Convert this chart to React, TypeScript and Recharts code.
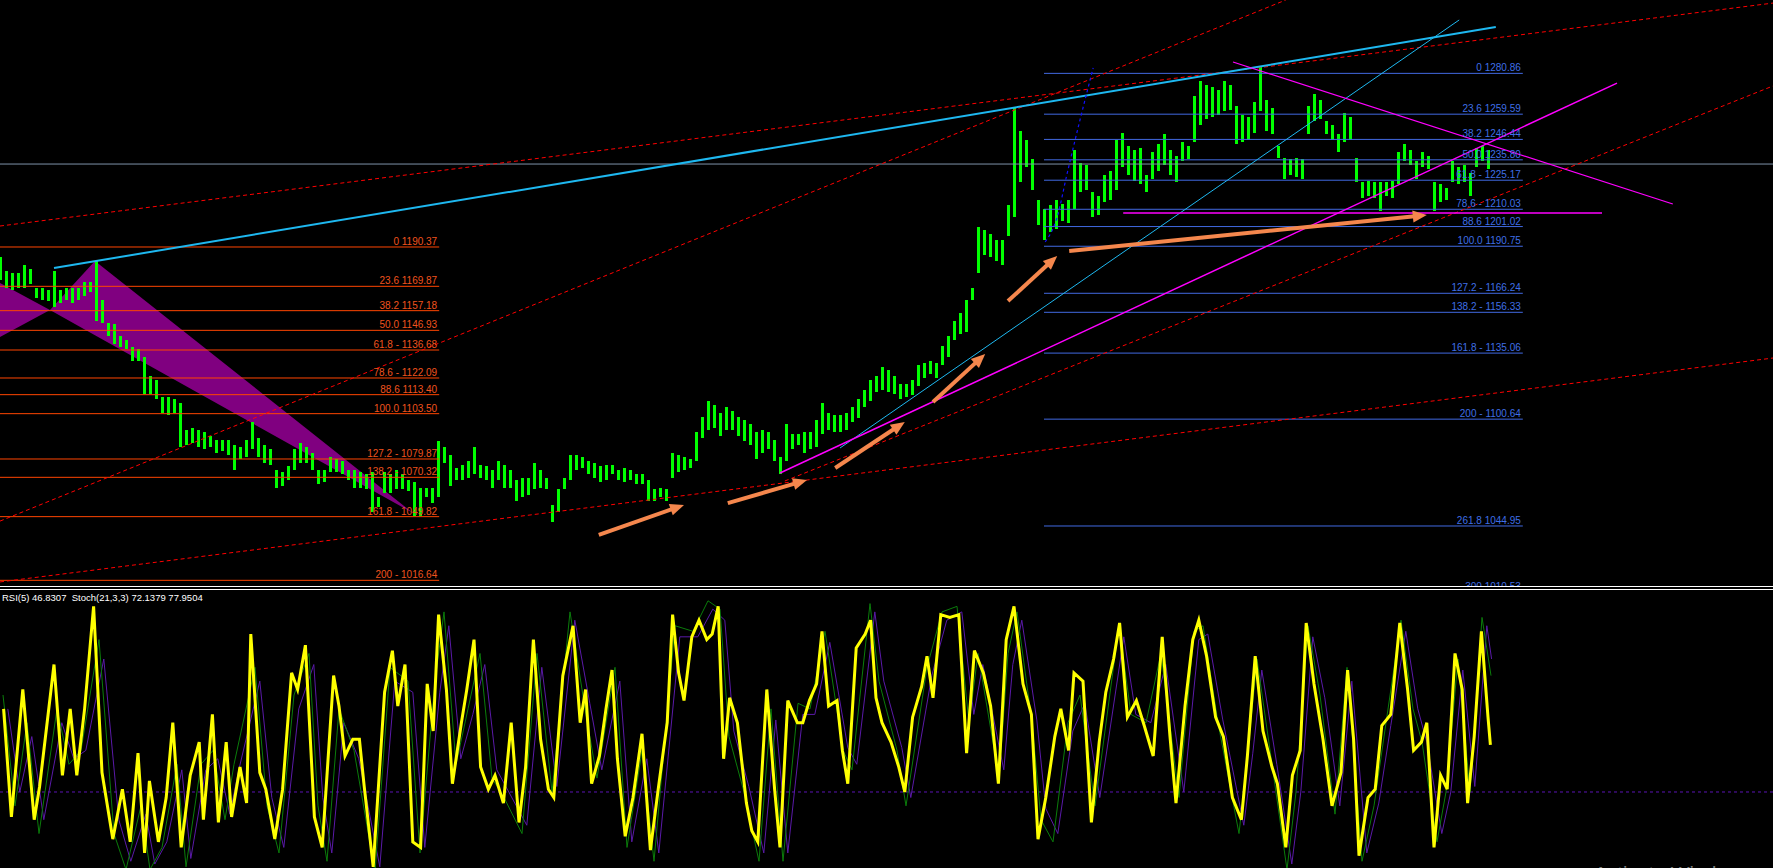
import React from 'react';
import { ComposedChart, Bar, Line, Area, XAxis, YAxis, ReferenceLine } from 'recharts';

// ---------- layout / calibration ----------
const WIDTH = 1773;
const HEIGHT = 868;
const PRICE_H = 586;
const IND_Y = 590;
const IND_H = 278;
const BAR_STEP_PX = 6;
const X_MAX = WIDTH / BAR_STEP_PX;
const PRICE_TOP = 1319.1;
const PRICE_PER_PX = 0.5212;
const PRICE_DOMAIN: [number, number] = [PRICE_TOP - PRICE_H * PRICE_PER_PX, PRICE_TOP];
const IND_DOMAIN: [number, number] = [2.57, 102.9];
const FONT = '"Liberation Sans", Arial, sans-serif';

// ---------- price bars (one bar per index) ----------
const highs = [
  1185, 1178, 1177, 1177, 1181, 1179, 1169, 1169, 1168, 1178,
  1168, 1169, 1169, 1169, 1172, 1172, 1183, 1163, 1151, 1150,
  1144, 1142, 1138, 1137, 1133, 1123, 1121, 1112, 1112, 1111,
  1109, 1095, 1096, 1095, 1094, 1092, 1090, 1090, 1090, 1087,
  1086, 1090, 1099, 1091, 1087, 1085, 1074, 1073, 1076, 1085,
  1088, 1086, 1083, 1074, 1074, 1081, 1080, 1079, 1074, 1074,
  1073, 1072, 1073, 1060, 1073, 1072, 1074, 1072, 1069, 1068,
  1065, 1065, 1065, 1089, 1086, 1082, 1075, 1077, 1079, 1086,
  1077, 1076, 1074, 1079, 1077, 1074, 1069, 1070, 1070, 1078,
  1074, 1070, 1056, 1064, 1070, 1082, 1082, 1081, 1079, 1078,
  1076, 1077, 1077, 1074, 1075, 1074, 1072, 1072, 1069, 1064,
  1065, 1064, 1083, 1082, 1081, 1080, 1094, 1102, 1110, 1108,
  1104, 1107, 1105, 1102, 1100, 1098, 1094, 1095, 1094, 1090,
  1081, 1098, 1093, 1093, 1094, 1094, 1100, 1109, 1104, 1103,
  1103, 1104, 1107, 1111, 1116, 1121, 1123, 1128, 1126, 1123,
  1119, 1119, 1121, 1129, 1130, 1131, 1130, 1139, 1144, 1152,
  1156, 1163, 1169, 1201, 1199, 1197, 1194, 1194, 1212, 1263,
  1251, 1246, 1236, 1215, 1210, 1212, 1215, 1213, 1215, 1241,
  1234, 1233, 1219, 1217, 1228, 1230, 1246, 1250, 1243, 1241,
  1242, 1228, 1240, 1244, 1249, 1241, 1238, 1245, 1243, 1269,
  1277, 1275, 1274, 1272, 1277, 1275, 1264, 1259, 1258, 1266,
  1284, 1267, 1263, 1243, 1237, 1236, 1237, 1236, 1264, 1270,
  1267, 1256, 1254, 1249, 1260, 1258, 1237, 1224, 1225, 1224,
  1224, 1224, 1225, 1240, 1244, 1241, 1235, 1240, 1238, 1224,
  1223, 1221, 1235, 1232, 1233, 1229, 1242, 1243, 1241,
];
const lows = [
  1173, 1169, 1168, 1169, 1169, 1171, 1164, 1163, 1162, 1159,
  1161, 1163, 1161, 1163, 1165, 1167, 1152, 1151, 1144, 1140,
  1138, 1137, 1131, 1131, 1114, 1114, 1111, 1104, 1103, 1104,
  1086, 1087, 1088, 1086, 1085, 1086, 1083, 1084, 1082, 1074,
  1080, 1081, 1085, 1081, 1078, 1077, 1065, 1066, 1069, 1074,
  1078, 1078, 1074, 1067, 1068, 1073, 1073, 1072, 1069, 1065,
  1065, 1064, 1052, 1055, 1062, 1062, 1064, 1064, 1063, 1050,
  1050, 1060, 1057, 1060, 1078, 1066, 1069, 1069, 1070, 1072,
  1070, 1069, 1065, 1069, 1065, 1065, 1058, 1060, 1061, 1064,
  1065, 1064, 1047, 1052, 1064, 1069, 1074, 1075, 1072, 1070,
  1068, 1069, 1072, 1069, 1068, 1069, 1067, 1067, 1058, 1058,
  1060, 1058, 1070, 1073, 1074, 1075, 1079, 1091, 1095, 1096,
  1092, 1095, 1095, 1092, 1089, 1087, 1080, 1083, 1085, 1079,
  1072, 1079, 1085, 1087, 1083, 1085, 1086, 1093, 1095, 1094,
  1094, 1095, 1099, 1101, 1107, 1110, 1115, 1116, 1115, 1114,
  1111, 1112, 1113, 1118, 1122, 1124, 1122, 1129, 1133, 1142,
  1145, 1146, 1163, 1177, 1186, 1185, 1183, 1181, 1196, 1206,
  1224, 1232, 1220, 1202, 1194, 1198, 1200, 1204, 1203, 1210,
  1219, 1220, 1206, 1207, 1214, 1215, 1220, 1232, 1228, 1225,
  1223, 1219, 1226, 1230, 1233, 1228, 1224, 1235, 1236, 1245,
  1254, 1257, 1258, 1259, 1261, 1262, 1244, 1245, 1246, 1250,
  1261, 1251, 1249, 1237, 1226, 1228, 1227, 1226, 1249, 1256,
  1257, 1249, 1246, 1240, 1245, 1246, 1224, 1216, 1217, 1216,
  1209, 1217, 1216, 1223, 1235, 1233, 1226, 1232, 1231, 1209,
  1214, 1215, 1224, 1223, 1224, 1217, 1232, 1235, 1231,
];

// ---------- Fibonacci levels ----------
const fibLeftLabels = ['0 1190.37', '23.6 1169.87', '38.2 1157.18', '50.0 1146.93', '61.8 - 1136.68', '78.6 - 1122.09', '88.6 1113.40', '100.0 1103.50', '127.2 - 1079.87', '138.2 - 1070.32', '161.8 - 1049.82', '200 - 1016.64'];
const fibLeftPrices = [1190.37, 1169.87, 1157.18, 1146.93, 1136.68, 1122.09, 1113.4, 1103.5, 1079.87, 1070.32, 1049.82, 1016.64];
const fibLeftSpan: [number, number] = [0, 73.2];
const fibRightLabels = ['0 1280.86', '23.6 1259.59', '38.2 1246.44', '50.0 1235.80', '61.8 - 1225.17', '78.6 - 1210.03', '88.6 1201.02', '100.0 1190.75', '127.2 - 1166.24', '138.2 - 1156.33', '161.8 -  1135.06', '200 - 1100.64', '261.8 1044.95', '300 1010.53'];
const fibRightPrices = [1280.86, 1259.59, 1246.44, 1235.8, 1225.17, 1210.03, 1201.02, 1190.75, 1166.24, 1156.33, 1135.06, 1100.64, 1044.95, 1010.53];
const fibRightSpan: [number, number] = [174, 253.8];

// ---------- drawn objects (time index, price) ----------
const horizontalLevel = 1233.6;
type Pt = [number, number];
const redDotted: [Pt, Pt][] = [
  [[0, 1201.3], [295.5, 1317.5]],
  [[0, 1047.5], [214.3, 1319.1]],
  [[0, 1015.8], [295.5, 1132.5]],
  [[130.8, 1068.4], [295.5, 1274.3]],
];
const cyanMain: [Pt, Pt] = [[9, 1179.4], [249.3, 1305.0]];
const cyanSteep: [Pt, Pt] = [[140, 1085.6], [243.2, 1308.7]];
const magentaRise: [Pt, Pt] = [[130, 1072.6], [269.5, 1275.8]];
const magentaFall: [Pt, Pt] = [[205.5, 1286.8], [278.8, 1212.8]];
const magentaFlat: [Pt, Pt] = [[187.2, 1208.1], [267, 1208.1]];
const blueArcTimes = [174.2, 176.2, 177.8, 180, 182.2];
const blueArcPrices = [1193.0, 1206.0, 1227.9, 1256.6, 1283.7];
const arrows: [Pt, Pt][] = [
  [[99.8, 1040.3], [114, 1055.9]],
  [[121.3, 1056.9], [134.5, 1068.9]],
  [[139.2, 1075.2], [150.8, 1099.2]],
  [[155.5, 1109.6], [164.2, 1134.6]],
  [[168, 1162.2], [176.2, 1185.7]],
  [[178.2, 1188.3], [237.8, 1207.0]],
];
const harmonicTimes = [0, 8.33, 15.83, 68.83];
const harmonicUpper = [1171.6, 1157.5, 1183.1, 1051.7];
const harmonicLower = [1143.5, 1157.5, 1144.4, 1051.7];

// ---------- indicator readings [time index, value] ----------
const rsiReadings: Pt[] = [
  [0.6, 60], [1.9, 21], [3.8, 67], [5.7, 20], [6.6, 32], [9.0, 76], [10.4, 36], [11.7, 60], [12.8, 36], [14.1, 60],
  [15.6, 97], [17.0, 37], [18.8, 13], [20.4, 31], [21.7, 12], [23.0, 44], [24.1, 8], [24.9, 34], [26.4, 12], [27.7, 28],
  [28.8, 55], [30.2, 10], [31.7, 36], [33.2, 48], [33.9, 20], [35.4, 58], [36.4, 19], [37.7, 48], [38.6, 21], [40.0, 39],
  [41.1, 26], [41.8, 87], [43.3, 37], [44.3, 31], [45.8, 13], [47.1, 31], [48.6, 73], [49.6, 67], [50.9, 83], [52.4, 21],
  [53.7, 10], [55.6, 72], [56.5, 61], [57.5, 43], [58.8, 49], [59.9, 49], [60.7, 32], [62.2, 3], [64.1, 66], [65.4, 81],
  [66.3, 61], [67.5, 76], [68.8, 12], [70.1, 10], [71.2, 69], [72.2, 52], [73.1, 94], [74.4, 67], [75.4, 33], [76.9, 55],
  [77.8, 67], [79.0, 85], [80.1, 39], [81.4, 31], [82.5, 36], [83.9, 26], [85.2, 55], [86.5, 19], [87.6, 39], [88.9, 85],
  [90.1, 49], [91.4, 31], [92.3, 28], [93.8, 72], [95.5, 90], [96.7, 55], [97.6, 67], [98.6, 33], [99.9, 43], [101.0, 60],
  [102.0, 74], [102.9, 42], [104.2, 14], [105.5, 28], [107.0, 51], [108.4, 9], [109.7, 31], [111.2, 55], [112.1, 94], [113.1, 73],
  [114.0, 63], [115.3, 86], [116.5, 92], [117.8, 85], [118.7, 87], [119.7, 97], [120.6, 42], [121.6, 64], [122.9, 55], [124.4, 26],
  [125.3, 16], [126.3, 12], [127.8, 67], [129.1, 31], [130.0, 10], [131.3, 63], [132.9, 55], [133.8, 55], [134.9, 63], [136.1, 69],
  [137.0, 88], [138.1, 61], [139.5, 63], [140.4, 45], [141.3, 33], [142.7, 82], [144.2, 87], [145.1, 92], [146.0, 64], [147.0, 55],
  [148.5, 48], [149.8, 39], [150.8, 30], [152.1, 57], [153.6, 68], [154.5, 79], [155.5, 64], [156.8, 94], [158.3, 93], [159.8, 94],
  [161.1, 44], [162.4, 81], [163.9, 73], [165.1, 61], [166.4, 33], [167.7, 85], [169.0, 97], [170.5, 69], [171.9, 58], [173.0, 13],
  [174.3, 28], [175.8, 50], [176.8, 60], [178.1, 45], [179.0, 73], [180.5, 70], [181.9, 19], [183.2, 48], [184.3, 66], [185.6, 78],
  [186.6, 91], [187.9, 57], [189.4, 63], [190.7, 54], [192.2, 43], [193.7, 86], [195.0, 50], [196.0, 26], [197.5, 61], [198.8, 85],
  [199.8, 92], [201.1, 79], [202.6, 57], [203.9, 50], [205.4, 28], [206.9, 20], [207.9, 43], [209.2, 79], [210.5, 52], [212.0, 39],
  [212.9, 33], [214.3, 10], [215.4, 36], [216.7, 45], [217.7, 91], [219.0, 69], [220.5, 49], [222.0, 25], [223.5, 37], [224.6, 74],
  [225.6, 49], [226.5, 7], [228.0, 28], [229.2, 31], [230.3, 54], [231.8, 58], [233.3, 91], [234.6, 67], [235.6, 45], [236.9, 48],
  [237.8, 55], [239.0, 10], [240.1, 36], [241.2, 31], [242.5, 80], [243.7, 67], [244.6, 26], [245.7, 50], [246.9, 88], [248.0, 57],
  [248.4, 47],
];
const stochMainReadings: Pt[] = [
  [0.5, 65], [2.5, 25], [4.5, 55], [6.5, 15], [9.5, 60], [11.5, 40], [13.5, 45], [16.5, 85], [19, 15], [21, 2],
  [23.5, 25], [25, 2], [27, 10], [29.5, 40], [31, 3], [33.5, 40], [35.5, 45], [37.5, 20], [39, 40], [42.5, 75],
  [44.5, 25], [46.5, 8], [49, 65], [51.5, 80], [53, 25], [54.5, 5], [56.5, 60], [59, 45], [62.5, 1], [65, 75],
  [68, 70], [70, 8], [72.5, 70], [74, 95], [76, 40], [78, 60], [80, 80], [82, 35], [84, 28], [87, 15],
  [89.5, 80], [92, 30], [95, 95], [97.5, 60], [99.5, 35], [102.5, 75], [104.5, 10], [107, 45], [109, 5], [112.5, 90],
  [115.5, 88], [118, 99], [120, 96], [121.5, 50], [124, 30], [126.5, 5], [128.5, 60], [130.5, 5], [133, 62], [135, 60],
  [137.5, 88], [140.5, 45], [142, 38], [145, 98], [146.5, 70], [149.5, 45], [151, 25], [154.5, 75], [157, 95], [159.5, 97],
  [161.5, 55], [163, 80], [166.5, 35], [168, 80], [169.5, 95], [172, 55], [173.5, 20], [175.5, 12], [178, 55], [180, 65],
  [182.5, 25], [186.5, 90], [188.5, 58], [191, 55], [193.5, 80], [196.5, 28], [199, 88], [200.5, 90], [203, 55], [206.5, 15],
  [208, 45], [209.5, 78], [212, 40], [214.5, 2], [216, 30], [218, 90], [220, 65], [222.5, 22], [224.5, 75], [227, 5],
  [229, 25], [231, 55], [233.5, 92], [235.5, 60], [237, 48], [239.5, 12], [241, 30], [243, 78], [245, 30], [247, 93],
  [248.5, 72],
];
const stochSignalReadings: Pt[] = [
  [1.3, 60], [3.3, 30], [5.3, 50], [7.3, 20], [10.3, 55], [12.3, 42], [14.3, 45], [17.3, 78], [19.8, 20], [21.8, 5],
  [24.3, 22], [25.8, 4], [27.8, 12], [30.3, 38], [31.8, 6], [34.3, 38], [36.3, 42], [38.3, 22], [39.8, 38], [43.3, 70],
  [45.3, 28], [47.3, 10], [49.8, 60], [52.3, 76], [53.8, 28], [55.3, 8], [57.3, 55], [59.8, 42], [63.3, 3], [65.8, 70],
  [68.8, 66], [70.8, 10], [73.3, 66], [74.8, 90], [76.8, 42], [78.8, 58], [80.8, 76], [82.8, 38], [84.8, 30], [87.8, 18],
  [90.3, 75], [92.8, 32], [95.8, 92], [98.3, 62], [100.3, 38], [103.3, 70], [105.3, 12], [107.8, 42], [109.8, 8], [113.3, 86],
  [116.3, 86], [118.8, 96], [120.8, 92], [122.3, 52], [124.8, 32], [127.3, 8], [129.3, 56], [131.3, 8], [133.8, 58], [135.8, 58],
  [138.3, 84], [141.3, 46], [142.8, 40], [145.8, 95], [147.3, 70], [150.3, 46], [151.8, 28], [155.3, 72], [157.8, 92], [160.3, 95],
  [162.3, 58], [163.8, 76], [167.3, 38], [168.8, 76], [170.3, 92], [172.8, 56], [174.3, 24], [176.3, 15], [178.8, 52], [180.8, 62],
  [183.3, 28], [187.3, 86], [189.3, 58], [191.8, 55], [194.3, 76], [197.3, 30], [199.8, 85], [201.3, 87], [203.8, 56], [207.3, 18],
  [208.8, 44], [210.3, 74], [212.8, 40], [215.3, 4], [216.8, 30], [218.8, 86], [220.8, 64], [223.3, 25], [225.3, 70], [227.8, 8],
  [229.8, 26], [231.8, 54], [234.3, 88], [236.3, 60], [237.8, 48], [240.3, 15], [241.8, 30], [243.8, 74], [245.8, 32], [247.8, 90],
  [248.6, 78],
];
const rsiLevel = 30;
const indicatorTitle = 'RSI(5) 46.8307  Stoch(21,3,3) 72.1379 77.9504';

// ---------- colors ----------
const C = {
  bar: '#00ff00',
  fibLeft: '#ff4500',
  fibLeftText: '#f0531e',
  fibRight: '#4169e1',
  fibRightText: '#3f6fe6',
  red: '#ff0000',
  cyan: '#1eb8f0',
  magenta: '#ff00ff',
  blue: '#1010ff',
  arrow: '#f5874d',
  gray: '#7f93aa',
  harmonic: '#800080',
  rsi: '#ffff00',
  stochMain: '#0b7d0b',
  stochSignal: '#5a1aa8',
  level: '#5a14b4',
};

const ArrowShape = (props: any) => {
  const { x1, y1, x2, y2 } = props;
  const dx = x2 - x1;
  const dy = y2 - y1;
  const len = Math.hypot(dx, dy) || 1;
  const ux = dx / len;
  const uy = dy / len;
  const head = 14;
  const half = 6;
  const bx = x2 - ux * head;
  const by = y2 - uy * head;
  const px = -uy;
  const py = ux;
  return (
    <g>
      <line x1={x1} y1={y1} x2={bx + ux * 2} y2={by + uy * 2} stroke={C.arrow} strokeWidth={4} />
      <polygon points={`${x2},${y2} ${bx + px * half},${by + py * half} ${bx - px * half},${by - py * half}`} fill={C.arrow} />
    </g>
  );
};

const PriceBarShape = (props: any) => {
  const { x, y, width, height } = props;
  if (height == null || isNaN(y)) return <g />;
  const cx = Math.round(x + width / 2);
  return <rect x={cx - 1} y={y} width={3} height={Math.max(1, height)} fill={C.bar} shapeRendering="crispEdges" />;
};

const seg = (s: [Pt, Pt]) => [{ x: s[0][0], y: s[0][1] }, { x: s[1][0], y: s[1][1] }];

export default function App() {
  const priceData = highs.map((h, i) => ({ i, r: [lows[i], h] }));
  const harmonicData = harmonicTimes.map((t, k) => ({ i: t, r: [harmonicLower[k], harmonicUpper[k]] }));
  const arcData = blueArcTimes.map((t, k) => ({ i: t, p: blueArcPrices[k] }));
  const rsiData = rsiReadings.map(([i, v]) => ({ i, v }));
  const stochMain = stochMainReadings.map(([i, v]) => ({ i, v }));
  const stochSignal = stochSignalReadings.map(([i, v]) => ({ i, v }));

  const fibLines = (labels: string[], prices: number[], span: [number, number], line: string, text: string, key: string) =>
    prices.map((p, k) => (
      <ReferenceLine
        key={key + k}
        segment={[{ x: span[0], y: p }, { x: span[1], y: p }]}
        stroke={line}
        strokeWidth={1}
        ifOverflow="hidden"
        label={{ value: labels[k], position: 'insideBottomRight', offset: 2, fill: text, fontSize: 10, fontFamily: FONT }}
      />
    ));

  return (
    <div style={{ position: 'fixed', left: 0, top: 0, width: WIDTH, height: HEIGHT, background: '#000', overflow: 'hidden' }}>
      <div style={{ position: 'absolute', left: 0, top: 0 }}>
        <ComposedChart width={WIDTH} height={PRICE_H} data={priceData} margin={{ top: 0, right: 0, bottom: 0, left: 0 }}>
          <XAxis type="number" dataKey="i" domain={[0, X_MAX]} hide allowDataOverflow />
          <YAxis type="number" domain={PRICE_DOMAIN} hide allowDataOverflow />
          <Area data={harmonicData} dataKey="r" type="linear" fill={C.harmonic} fillOpacity={1} stroke="none" dot={false} activeDot={false} isAnimationActive={false} />
          <Bar dataKey="r" barSize={2} fill={C.bar} shape={PriceBarShape} activeBar={false} isAnimationActive={false} />
          <ReferenceLine y={horizontalLevel} stroke={C.gray} strokeWidth={1} ifOverflow="hidden" />
          {fibLines(fibLeftLabels, fibLeftPrices, fibLeftSpan, C.fibLeft, C.fibLeftText, 'fl')}
          {fibLines(fibRightLabels, fibRightPrices, fibRightSpan, C.fibRight, C.fibRightText, 'fr')}
          {redDotted.map((s, k) => (
            <ReferenceLine key={'rd' + k} segment={seg(s)} stroke={C.red} strokeWidth={1} strokeDasharray="4 3" ifOverflow="hidden" />
          ))}
          <ReferenceLine segment={seg(cyanMain)} stroke={C.cyan} strokeWidth={2} ifOverflow="hidden" />
          <ReferenceLine segment={seg(cyanSteep)} stroke={C.cyan} strokeWidth={1} ifOverflow="hidden" />
          <ReferenceLine segment={seg(magentaRise)} stroke={C.magenta} strokeWidth={1.5} ifOverflow="hidden" />
          <ReferenceLine segment={seg(magentaFall)} stroke={C.magenta} strokeWidth={1.2} ifOverflow="hidden" />
          <ReferenceLine segment={seg(magentaFlat)} stroke={C.magenta} strokeWidth={1.5} ifOverflow="hidden" />
          <Line data={arcData} dataKey="p" type="monotone" stroke={C.blue} strokeWidth={1.2} strokeDasharray="3 3" dot={false} activeDot={false} isAnimationActive={false} />
          {arrows.map((s, k) => (
            <ReferenceLine key={'ar' + k} segment={seg(s)} stroke={C.arrow} ifOverflow="visible" shape={ArrowShape} />
          ))}
        </ComposedChart>
      </div>
      <div style={{ position: 'absolute', left: 0, top: PRICE_H, width: WIDTH, height: 1, background: '#fff' }} />
      <div style={{ position: 'absolute', left: 0, top: PRICE_H + 3, width: WIDTH, height: 1, background: '#fff' }} />
      <div style={{ position: 'absolute', left: 0, top: IND_Y }}>
        <ComposedChart width={WIDTH} height={IND_H} data={rsiData} margin={{ top: 0, right: 0, bottom: 0, left: 0 }}>
          <XAxis type="number" dataKey="i" domain={[0, X_MAX]} hide allowDataOverflow />
          <YAxis type="number" domain={IND_DOMAIN} hide allowDataOverflow />
          <ReferenceLine y={rsiLevel} stroke={C.level} strokeWidth={1} strokeDasharray="3 3" />
          <Line data={stochSignal} dataKey="v" type="linear" stroke={C.stochSignal} strokeWidth={1} dot={false} activeDot={false} isAnimationActive={false} />
          <Line data={stochMain} dataKey="v" type="linear" stroke={C.stochMain} strokeWidth={1} dot={false} activeDot={false} isAnimationActive={false} />
          <Line dataKey="v" type="linear" stroke={C.rsi} strokeWidth={3} dot={false} activeDot={false} isAnimationActive={false} />
        </ComposedChart>
      </div>
      <div style={{ position: 'absolute', left: 2, top: 592, color: '#fff', fontFamily: FONT, fontSize: 9.5, whiteSpace: 'pre', lineHeight: '12px' }}>
        {indicatorTitle}
      </div>
      <div style={{ position: 'absolute', left: 1594, top: 862, color: 'rgba(160,160,160,0.8)', fontFamily: FONT, fontSize: 20, whiteSpace: 'pre', lineHeight: '24px' }}>
        Activate Windows
      </div>
    </div>
  );
}
